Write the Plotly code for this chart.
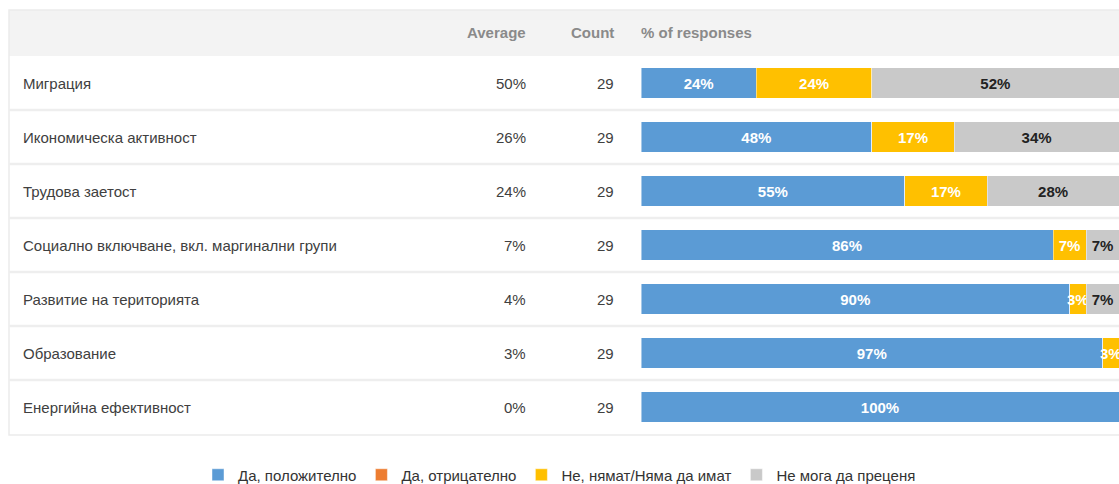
import plotly.graph_objects as go

W, H = 1119, 484

categories = [
    "Миграция",
    "Икономическа активност",
    "Трудова заетост",
    "Социално включване, вкл. маргинални групи",
    "Развитие на територията",
    "Образование",
    "Енергийна ефективност",
]
averages = ["50%", "26%", "24%", "7%", "4%", "3%", "0%"]
counts = [29, 29, 29, 29, 29, 29, 29]

series_names = ["Да, положително", "Да, отрицателно", "Не, нямат/Няма да имат", "Не мога да преценя"]
# number of responses per answer (out of 29)
resp_positive = [7, 14, 16, 25, 26, 28, 29]
resp_negative = [0, 0, 0, 0, 0, 0, 0]
resp_none = [7, 5, 5, 2, 1, 1, 0]
resp_cannot = [15, 10, 8, 2, 2, 0, 0]

header_labels = ["Average", "Count", "% of responses"]

colors = ["#5B9BD5", "#ED7D31", "#FFC000", "#C9C9C9"]
text_colors = ["#FFFFFF", "#FFFFFF", "#FFFFFF", "#222222"]

FONT = "Liberation Sans, Arial, sans-serif"
FS = 15


def px_x(x):
    return x / W


def px_y(y):
    return 1 - y / H


TOP = 56
ROW_H = 54
N = len(categories)
BOTTOM = TOP + ROW_H * N

fig = go.Figure()
ypos = list(range(N))
for name, vals, col, tcol in zip(series_names,
                                 [resp_positive, resp_negative, resp_none, resp_cannot],
                                 colors, text_colors):
    pct = [v / c * 100 for v, c in zip(vals, counts)]
    txt = [f"{p:.0f}%" if v > 0 else "" for p, v in zip(pct, vals)]
    fig.add_trace(go.Bar(
        name=name, y=ypos, x=pct, orientation="h",
        marker=dict(color=col, line=dict(color="rgba(255,255,255,0.45)", width=1)),
        width=0.56,
        text=txt, textposition="inside", insidetextanchor="middle",
        textangle=0, constraintext="none",
        textfont=dict(family=FONT, size=FS, color=tcol, weight="bold"),
        hoverinfo="skip",
    ))

shapes = []
# header band
shapes.append(dict(type="rect", xref="paper", yref="paper",
                   x0=px_x(9), x1=1.0, y0=px_y(TOP), y1=px_y(10),
                   fillcolor="#F3F3F3", line=dict(width=0), layer="below"))
# table outer border
shapes.append(dict(type="rect", xref="paper", yref="paper",
                   x0=px_x(9), x1=px_x(1122), y0=px_y(BOTTOM + 1), y1=px_y(10),
                   fillcolor="rgba(0,0,0,0)", line=dict(color="#EBEBEB", width=1.5), layer="below"))
# row separators
for i in range(1, N):
    yy = TOP + ROW_H * i
    shapes.append(dict(type="line", xref="paper", yref="paper",
                       x0=px_x(9), x1=1.0, y0=px_y(yy), y1=px_y(yy),
                       line=dict(color="#EEEEEE", width=2.5), layer="below"))

annotations = []
hdr_font = dict(family=FONT, size=FS, color="#8A8A8A", weight="bold")
annotations.append(dict(text=header_labels[0], x=px_x(528), y=px_y(33), xref="paper", yref="paper",
                        xanchor="right", yanchor="middle", showarrow=False, font=hdr_font))
annotations.append(dict(text=header_labels[1], x=px_x(616), y=px_y(33), xref="paper", yref="paper",
                        xanchor="right", yanchor="middle", showarrow=False, font=hdr_font))
annotations.append(dict(text=header_labels[2], x=px_x(639), y=px_y(33), xref="paper", yref="paper",
                        xanchor="left", yanchor="middle", showarrow=False, font=hdr_font))

cell_font = dict(family=FONT, size=FS, color="#404040")
for i, (cat, avg, cnt) in enumerate(zip(categories, averages, counts)):
    yc = px_y(TOP + ROW_H * i + ROW_H / 2)
    annotations.append(dict(text=cat, x=px_x(21), y=yc, xref="paper", yref="paper",
                            xanchor="left", yanchor="middle", showarrow=False, font=cell_font))
    annotations.append(dict(text=avg, x=px_x(528), y=yc, xref="paper", yref="paper",
                            xanchor="right", yanchor="middle", showarrow=False, font=cell_font))
    annotations.append(dict(text=str(cnt), x=px_x(616), y=yc, xref="paper", yref="paper",
                            xanchor="right", yanchor="middle", showarrow=False, font=cell_font))

fig.update_layout(
    width=W, height=H,
    margin=dict(l=0, r=0, t=0, b=0, autoexpand=False),
    barmode="stack",
    paper_bgcolor="white", plot_bgcolor="rgba(0,0,0,0)",
    xaxis=dict(domain=[px_x(641), 1.0], range=[0, 100], visible=False, fixedrange=True),
    yaxis=dict(domain=[px_y(BOTTOM), px_y(TOP)], range=[N - 0.5, -0.5], visible=False, fixedrange=True),
    shapes=shapes, annotations=annotations,
    legend=dict(orientation="h", x=0.5, xanchor="center", y=px_y(475), yanchor="middle",
                font=dict(family=FONT, size=FS, color="#333333"),
                traceorder="normal", itemclick=False, itemdoubleclick=False),
    showlegend=True,
)

fig.write_html("out.html", config={"displayModeBar": False},
               post_script="document.body.style.margin='0';document.body.style.overflow='hidden';")
